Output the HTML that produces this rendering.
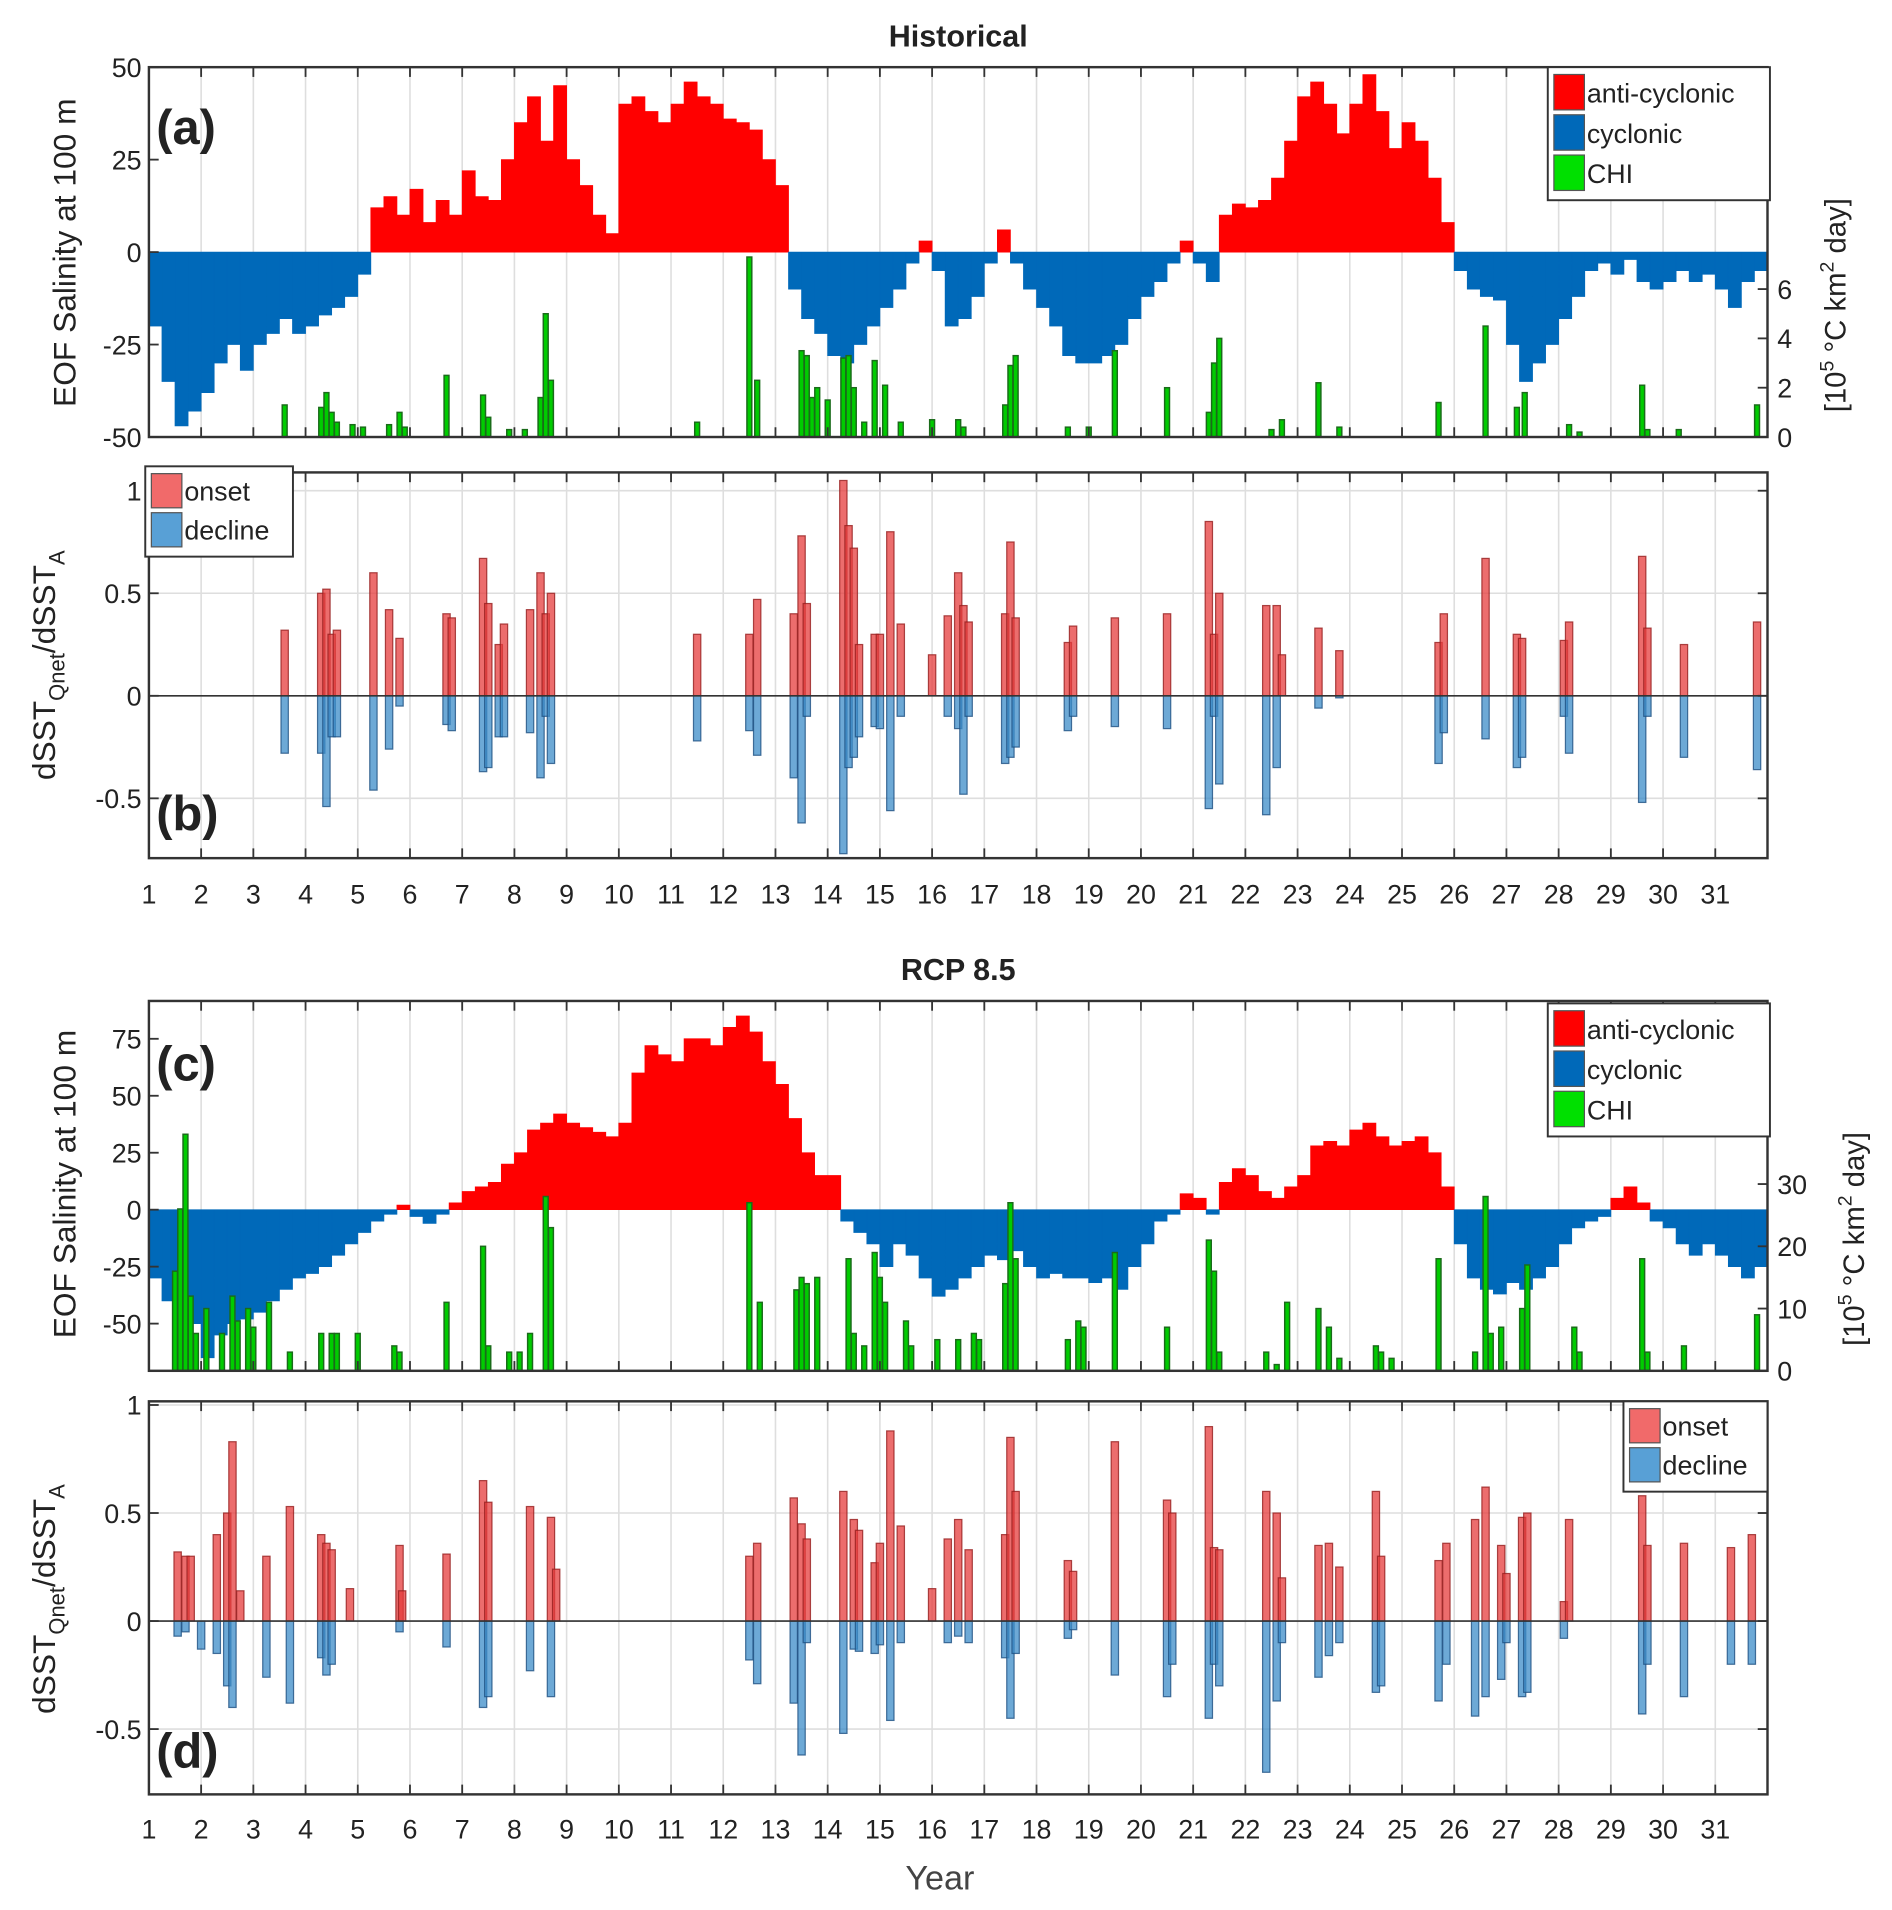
<!DOCTYPE html>
<html><head><meta charset="utf-8"><style>
html,body{margin:0;padding:0;background:#fff}
svg{display:block;font-family:"Liberation Sans",Arial,sans-serif}
</style></head><body>
<svg id="fig" width="1892" height="1910" viewBox="0 0 1550 1564.7" xmlns="http://www.w3.org/2000/svg"></svg>
<script>
// ---------- DATA ----------
const salTimeStep = 0.25; // years between salinity samples, starting at year 1
const salHist = [-20,-35,-47,-43,-38,-30,-25,-32,-25,-22,-18,-22,-20,-17,-15,-12,-6,12,15,10,17,8,14,10,22,15,14,25,35,42,30,45,25,18,10,5,40,42,38,35,40,46,42,40,36,35,33,25,18,-10,-18,-22,-28,-30,-25,-20,-15,-10,-3,3,-5,-20,-18,-12,-3,6,-3,-10,-15,-20,-28,-30,-30,-28,-25,-18,-12,-8,-3,3,-3,-8,10,13,12,14,20,30,42,46,40,32,40,48,38,28,35,30,20,8,-5,-10,-12,-13,-25,-35,-30,-25,-18,-12,-5,-3,-6,-2,-8,-10,-8,-5,-8,-6,-10,-15,-8,-5];
const salRcp = [-30,-40,-55,-50,-65,-55,-50,-48,-45,-40,-35,-30,-28,-25,-20,-15,-10,-5,-2,2,-3,-6,-2,3,8,10,12,20,25,35,38,42,38,36,34,32,38,60,72,68,65,75,75,72,80,85,78,65,55,40,25,15,15,-5,-10,-15,-25,-15,-20,-30,-38,-35,-30,-25,-20,-22,-18,-25,-30,-28,-30,-30,-32,-30,-35,-25,-15,-5,-2,7,5,-2,12,18,15,8,5,10,15,28,30,28,35,38,32,28,30,32,25,10,-15,-30,-35,-37,-32,-35,-30,-25,-15,-8,-5,-3,5,10,3,-5,-8,-15,-20,-15,-20,-25,-30,-25];
const chiHistYear = [3.6,4.3,4.4,4.5,4.6,4.9,5.1,5.6,5.8,5.9,6.7,7.4,7.5,7.9,8.2,8.5,8.6,8.7,11.5,12.5,12.65,13.5,13.6,13.7,13.8,14.0,14.3,14.4,14.5,14.7,14.9,15.1,15.4,16.0,16.5,16.6,17.4,17.5,17.6,18.6,19.0,19.5,20.5,21.3,21.4,21.5,22.5,22.7,23.4,23.8,25.7,26.6,27.2,27.35,28.2,28.4,29.6,29.7,30.3,31.8];
const chiHistVal = [1.3,1.2,1.8,1.0,0.6,0.5,0.4,0.5,1.0,0.4,2.5,1.7,0.8,0.3,0.3,1.6,5.0,2.3,0.6,7.3,2.3,3.5,3.3,1.6,2.0,1.5,3.2,3.3,2.0,0.6,3.1,2.1,0.6,0.7,0.7,0.4,1.3,2.9,3.3,0.4,0.4,3.5,2.0,1.0,3.0,4.0,0.3,0.7,2.2,0.4,1.4,4.5,1.2,1.8,0.5,0.2,2.1,0.3,0.3,1.3];
const chiRcpYear = [1.5,1.6,1.7,1.8,1.9,2.1,2.4,2.6,2.7,2.9,3.0,3.3,3.7,4.3,4.5,4.6,5.0,5.7,5.8,6.7,7.4,7.5,7.9,8.1,8.3,8.6,8.7,12.5,12.7,13.4,13.5,13.6,13.8,14.4,14.5,14.7,14.9,15.0,15.1,15.5,15.6,16.1,16.5,16.8,16.9,17.4,17.5,17.6,18.6,18.8,18.9,19.5,20.5,21.3,21.4,21.5,22.4,22.6,22.8,23.4,23.6,23.8,24.5,24.6,24.8,25.7,26.4,26.6,26.7,26.9,27.3,27.4,28.3,28.4,29.6,29.7,30.4,31.8];
const chiRcpVal = [16,26,38,12,6,10,6,12,8,10,7,11,3,6,6,6,6,4,3,11,20,4,3,3,6,28,23,27,11,13,15,14,15,18,6,4,19,15,11,8,4,5,5,6,5,14,27,18,5,8,7,19,7,21,16,3,3,1,11,10,7,2,4,3,2,18,3,28,6,7,10,17,7,3,18,3,4,9];
const evHistYear = [3.6,4.3,4.4,4.5,4.6,5.3,5.6,5.8,6.7,6.8,7.4,7.5,7.7,7.8,8.3,8.5,8.6,8.7,11.5,12.5,12.65,13.35,13.5,13.6,14.3,14.4,14.5,14.6,14.9,15.0,15.2,15.4,16.0,16.3,16.5,16.6,16.7,17.4,17.5,17.6,18.6,18.7,19.5,20.5,21.3,21.4,21.5,22.4,22.6,22.7,23.4,23.8,25.7,25.8,26.6,27.2,27.3,28.1,28.2,29.6,29.7,30.4,31.8];
const onsetHist = [0.32,0.5,0.52,0.3,0.32,0.6,0.42,0.28,0.4,0.38,0.67,0.45,0.25,0.35,0.42,0.6,0.4,0.5,0.3,0.3,0.47,0.4,0.78,0.45,1.05,0.83,0.72,0.25,0.3,0.3,0.8,0.35,0.2,0.39,0.6,0.44,0.36,0.4,0.75,0.38,0.26,0.34,0.38,0.4,0.85,0.3,0.5,0.44,0.44,0.2,0.33,0.22,0.26,0.4,0.67,0.3,0.28,0.27,0.36,0.68,0.33,0.25,0.36];
const declineHist = [-0.28,-0.28,-0.54,-0.2,-0.2,-0.46,-0.26,-0.05,-0.14,-0.17,-0.37,-0.35,-0.2,-0.2,-0.18,-0.4,-0.1,-0.33,-0.22,-0.17,-0.29,-0.4,-0.62,-0.1,-0.77,-0.35,-0.3,-0.2,-0.15,-0.16,-0.56,-0.1,0,-0.1,-0.16,-0.48,-0.1,-0.33,-0.3,-0.25,-0.17,-0.1,-0.15,-0.16,-0.55,-0.1,-0.43,-0.58,-0.35,0,-0.06,-0.01,-0.33,-0.18,-0.21,-0.35,-0.3,-0.1,-0.28,-0.52,-0.1,-0.3,-0.36];
const evRcpYear = [1.55,1.7,1.8,2.0,2.3,2.5,2.6,2.75,3.25,3.7,4.3,4.4,4.5,4.85,5.8,5.85,6.7,7.4,7.5,8.3,8.7,8.8,12.5,12.65,13.35,13.5,13.6,14.3,14.5,14.6,14.9,15.0,15.2,15.4,16.0,16.3,16.5,16.7,17.4,17.5,17.6,18.6,18.7,19.5,20.5,20.6,21.3,21.4,21.5,22.4,22.6,22.7,23.4,23.6,23.8,24.5,24.6,25.7,25.85,26.4,26.6,26.9,27.0,27.3,27.4,28.1,28.2,29.6,29.7,30.4,31.3,31.7];
const onsetRcp = [0.32,0.3,0.3,0,0.4,0.5,0.83,0.14,0.3,0.53,0.4,0.36,0.33,0.15,0.35,0.14,0.31,0.65,0.55,0.53,0.48,0.24,0.3,0.36,0.57,0.45,0.38,0.6,0.47,0.42,0.27,0.36,0.88,0.44,0.15,0.38,0.47,0.33,0.4,0.85,0.6,0.28,0.23,0.83,0.56,0.5,0.9,0.34,0.33,0.6,0.5,0.2,0.35,0.36,0.25,0.6,0.3,0.28,0.36,0.47,0.62,0.35,0.22,0.48,0.5,0.09,0.47,0.58,0.35,0.36,0.34,0.4];
const declineRcp = [-0.07,-0.05,0,-0.13,-0.15,-0.3,-0.4,0,-0.26,-0.38,-0.17,-0.25,-0.2,0,-0.05,0,-0.12,-0.4,-0.35,-0.23,-0.35,0,-0.18,-0.29,-0.38,-0.62,-0.1,-0.52,-0.13,-0.14,-0.15,-0.11,-0.46,-0.1,0,-0.1,-0.07,-0.1,-0.17,-0.45,-0.15,-0.08,-0.04,-0.25,-0.35,-0.2,-0.45,-0.2,-0.3,-0.7,-0.37,-0.1,-0.26,-0.16,-0.1,-0.33,-0.3,-0.37,-0.2,-0.44,-0.35,-0.27,-0.1,-0.35,-0.33,-0.08,0,-0.43,-0.2,-0.35,-0.2,-0.2];
const yearTicks = [1,2,3,4,5,6,7,8,9,10,11,12,13,14,15,16,17,18,19,20,21,22,23,24,25,26,27,28,29,30,31];
const salTicksA = [-50,-25,0,25,50];
const chiTicksA = [0,2,4,6];
const ratioTicks = [-0.5,0,0.5,1];
const salTicksC = [-50,-25,0,25,50,75];
const chiTicksC = [0,10,20,30];

// ---------- HELPERS ----------
const NS = "http://www.w3.org/2000/svg";
const svg = document.getElementById('fig');
function mk(tag, attrs, parent) {
  const e = document.createElementNS(NS, tag);
  for (const k in attrs) e.setAttribute(k, attrs[k]);
  (parent || svg).appendChild(e);
  return e;
}
const X0 = 122, X1 = 1448;
const xs = y => X0 + (y - 1) / 31 * (X1 - X0);
function lin(d0, d1, p0, p1) { return v => p0 + (v - d0) / (d1 - d0) * (p1 - p0); }

function frame(g, top, bot, hgrid, yTicks, ys) {
  yearTicks.forEach(t => {
    const l = mk('line', {x1: xs(t), x2: xs(t), y1: top, y2: bot, stroke: '#dedede', 'stroke-width': 1.3}, g);
    
    
  });
  if (hgrid) yTicks.forEach(t => {
    const l = mk('line', {x1: X0, x2: X1, y1: ys(t), y2: ys(t), stroke: '#dedede', 'stroke-width': 1.3}, g);
    
    
  });
}
function border(g, top, bot, yTicks, ys, rightTicks) {
  const r = mk('rect', {x: X0, y: top, width: X1 - X0, height: bot - top, fill: 'none', stroke: '#333', 'stroke-width': 2}, g);
  
  
  yearTicks.forEach(t => {
    mk('line', {x1: xs(t), x2: xs(t), y1: top, y2: top + 8, stroke: '#333', 'stroke-width': 1.5}, g);
    mk('line', {x1: xs(t), x2: xs(t), y1: bot, y2: bot - 8, stroke: '#333', 'stroke-width': 1.5}, g);
  });
  yTicks.forEach(t => {
    mk('line', {x1: X0, x2: X0 + 8, y1: ys(t), y2: ys(t), stroke: '#333', 'stroke-width': 1.5}, g);
    const tx = mk('text', {x: X0 - 6, y: ys(t) + 8, 'text-anchor': 'end', 'font-size': 22, fill: '#222'}, g);
    tx.textContent = t;
    
    
  });
  if (!rightTicks) yTicks.forEach(t => mk('line', {x1: X1, x2: X1 - 8, y1: ys(t), y2: ys(t), stroke: '#333', 'stroke-width': 1.5}, g));
}
function xLabels(g, y) {
  yearTicks.forEach(t => {
    const tx = mk('text', {x: xs(t), y: y, 'text-anchor': 'middle', 'font-size': 22, fill: '#222'}, g);
    tx.textContent = t;
    
    
  });
}
function areaPanel(g, series, ys) {
  let pos = '', neg = '';
  const z = ys(0);
  series.forEach((v, i) => {
    const a = xs(1 + i * salTimeStep), b = xs(1 + (i + 1) * salTimeStep);
    if (v > 0) pos += `M${a},${z}V${ys(v)}H${b}V${z}Z`;
    else if (v < 0) neg += `M${a},${z}V${ys(v)}H${b}V${z}Z`;
  });
  const p = mk('path', {d: pos, fill: '#ff0000', stroke: '#ff0000', 'stroke-width': 0.6}, g);
  
  
  const n = mk('path', {d: neg, fill: '#0069b9', stroke: '#0069b9', 'stroke-width': 0.6}, g);
  
  
}
function chiBars(g, years, vals, ys2) {
  years.forEach((yr, i) => {
    const r = mk('rect', {x: xs(yr) - 2, y: ys2(vals[i]), width: 4, height: ys2(0) - ys2(vals[i]), fill: '#00cc00', stroke: '#1a6b1a', 'stroke-width': 1.2}, g);
    
    
  });
}
function evBars(g, years, on, de, ys) {
  years.forEach((yr, i) => {
    const z = ys(0);
    const a = mk('rect', {x: xs(yr) - 3, y: Math.min(z, ys(on[i])), width: 6, height: Math.abs(z - ys(on[i])), fill: 'rgba(230,60,60,0.75)', stroke: 'rgba(150,30,30,0.8)', 'stroke-width': 1}, g);
    
    
    const b = mk('rect', {x: xs(yr) - 3, y: Math.min(z, ys(de[i])), width: 6, height: Math.abs(z - ys(de[i])), fill: 'rgba(60,140,200,0.75)', stroke: 'rgba(30,80,130,0.8)', 'stroke-width': 1}, g);
    
    
  });
  mk('line', {x1: X0, x2: X1, y1: ys(0), y2: ys(0), stroke: '#333', 'stroke-width': 1.3}, g);
}
function legend(g, x, y, w, items, rowH) {
  const r = mk('rect', {x: x, y: y, width: w, height: items.length * rowH + 10, fill: '#fff', stroke: '#333', 'stroke-width': 1.6}, g);
  
  
  items.forEach((it, i) => {
    const cy = y + 6 + i * rowH;
    const s = mk('rect', {x: x + 5, y: cy, width: 25, height: rowH - 4, fill: it[1], stroke: '#555', 'stroke-width': 1}, g);
    
    
    const t = mk('text', {x: x + 32, y: cy + rowH - 10, 'font-size': 22, fill: '#222'}, g);
    t.textContent = it[0];
    
    
  });
}
function txt(g, x, y, s, attrs, name) {
  const t = mk('text', Object.assign({x: x, y: y, fill: '#222'}, attrs), g);
  t.textContent = s;
  
  
  return t;
}
function ratioLabel(g, x, y) {
  const t = mk('text', {x: 0, y: 0, 'font-size': 26, 'text-anchor': 'middle', fill: '#222', transform: `translate(${x},${y}) rotate(-90)`}, g);
  
  
  t.innerHTML = 'dSST<tspan font-size="18" dy="8">Qnet</tspan><tspan dy="-8">/dSST</tspan><tspan font-size="18" dy="8">A</tspan>';
}
function chiLabel(g, x, y) {
  const t = mk('text', {x: 0, y: 0, 'font-size': 24, 'text-anchor': 'middle', fill: '#222', transform: `translate(${x},${y}) rotate(-90)`}, g);
  
  
  t.innerHTML = '[10<tspan font-size="16" dy="-10">5</tspan><tspan dy="10"> °C km</tspan><tspan font-size="16" dy="-10">2</tspan><tspan dy="10"> day]</tspan>';
}

// ---------- PANEL A ----------
(function () {
  const g = mk('g', {});  
  const top = 55, bot = 358;
  const ys = lin(-50, 50, bot, top);
  const ys2 = lin(0, 15, bot, top);
  txt(g, 785, 38, 'Historical', {'font-size': 25, 'font-weight': 'bold', 'text-anchor': 'middle'}, 'chart-title');
  frame(g, top, bot, false, salTicksA, ys);
  areaPanel(g, salHist, ys);
  chiBars(g, chiHistYear, chiHistVal, ys2);
  border(g, top, bot, salTicksA, ys, true);
  chiTicksA.forEach(t => {
    mk('line', {x1: X1, x2: X1 - 8, y1: ys2(t), y2: ys2(t), stroke: '#333', 'stroke-width': 1.5}, g);
    txt(g, X1 + 8, ys2(t) + 8, t, {'font-size': 22}, 'right-tick-label');
  });
  const yt = mk('text', {x: 0, y: 0, 'font-size': 26, 'text-anchor': 'middle', fill: '#222', transform: 'translate(62,207) rotate(-90)'}, g);
  yt.textContent = 'EOF Salinity at 100 m';
   
  chiLabel(g, 1512, 250);
  txt(g, 128, 118, '(a)', {'font-size': 40, 'font-weight': 'bold'}, 'panel-label');
  legend(g, 1268, 55, 182, [['anti-cyclonic', '#ff0000'], ['cyclonic', '#0069b9'], ['CHI', '#00e000']], 33);
})();

// ---------- PANEL B ----------
(function () {
  const g = mk('g', {});  
  const top = 387, bot = 703;
  const ys = lin(0, 1, 570, 402);
  frame(g, top, bot, true, ratioTicks, ys);
  evBars(g, evHistYear, onsetHist, declineHist, ys);
  border(g, top, bot, ratioTicks, ys, false);
  xLabels(g, 740);
  ratioLabel(g, 45, 545);
  txt(g, 128, 680, '(b)', {'font-size': 40, 'font-weight': 'bold'}, 'panel-label');
  legend(g, 119, 382, 121, [['onset', 'rgba(240,90,90,0.9)'], ['decline', 'rgba(70,150,210,0.9)']], 32);
})();

// ---------- PANEL C ----------
(function () {
  const g = mk('g', {});  
  const top = 820, bot = 1123;
  const ys = lin(0, 75, 991, 851);
  const ys2 = lin(0, 30, bot, 970);
  txt(g, 785, 803, 'RCP 8.5', {'font-size': 25, 'font-weight': 'bold', 'text-anchor': 'middle'}, 'chart-title');
  frame(g, top, bot, false, salTicksC, ys);
  areaPanel(g, salRcp, ys);
  chiBars(g, chiRcpYear, chiRcpVal, ys2);
  border(g, top, bot, salTicksC, ys, true);
  chiTicksC.forEach(t => {
    mk('line', {x1: X1, x2: X1 - 8, y1: ys2(t), y2: ys2(t), stroke: '#333', 'stroke-width': 1.5}, g);
    txt(g, X1 + 8, ys2(t) + 8, t, {'font-size': 22}, 'right-tick-label');
  });
  const yt = mk('text', {x: 0, y: 0, 'font-size': 26, 'text-anchor': 'middle', fill: '#222', transform: 'translate(62,970) rotate(-90)'}, g);
  yt.textContent = 'EOF Salinity at 100 m';
   
  chiLabel(g, 1527, 1015);
  txt(g, 128, 885, '(c)', {'font-size': 40, 'font-weight': 'bold'}, 'panel-label');
  legend(g, 1268, 822, 182, [['anti-cyclonic', '#ff0000'], ['cyclonic', '#0069b9'], ['CHI', '#00e000']], 33);
})();

// ---------- PANEL D ----------
(function () {
  const g = mk('g', {});  
  const top = 1148, bot = 1470;
  const ys = lin(0, 1, 1328, 1151);
  frame(g, top, bot, true, ratioTicks, ys);
  evBars(g, evRcpYear, onsetRcp, declineRcp, ys);
  border(g, top, bot, ratioTicks, ys, false);
  xLabels(g, 1506);
  ratioLabel(g, 45, 1310);
  txt(g, 128, 1448, '(d)', {'font-size': 40, 'font-weight': 'bold'}, 'panel-label');
  legend(g, 1330, 1148, 118, [['onset', 'rgba(240,90,90,0.9)'], ['decline', 'rgba(70,150,210,0.9)']], 32);
  txt(g, 770, 1548, 'Year', {'font-size': 28, 'text-anchor': 'middle', fill: '#444'}, 'x-axis-title');
})();
</script>
</body></html>
